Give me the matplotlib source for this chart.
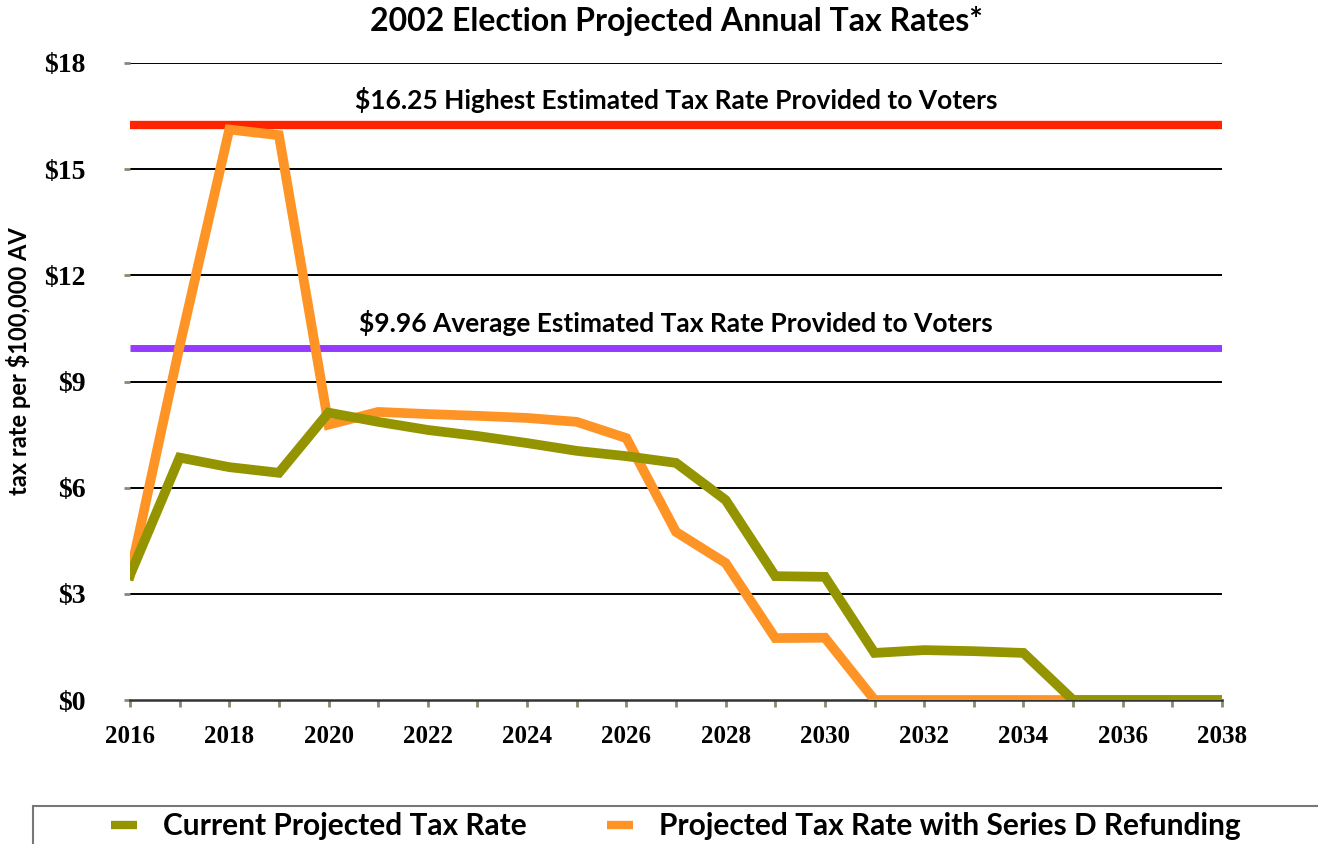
import matplotlib
matplotlib.use("Agg")
import matplotlib.pyplot as plt
from matplotlib.patches import Rectangle

# Projected tax rate per $100,000 of assessed value, by year
years = list(range(2016, 2039))
current_rate = [3.53, 6.85, 6.58, 6.42, 8.12, 7.86, 7.63, 7.46, 7.26, 7.04, 6.89, 6.70,
                5.65, 3.50, 3.48, 1.33, 1.41, 1.38, 1.33, 0.0, 0.0, 0.0, 0.0]
refunding_rate = [3.53, 10.0, 16.12, 15.96, 7.78, 8.14, 8.08, 8.03, 7.97, 7.86, 7.40, 4.75,
                  3.87, 1.75, 1.76, 0.0, 0.0, 0.0, 0.0, 0.0, 0.0, 0.0, 0.0]

highest_rate = 16.25
average_rate = 9.96

y_ticks = [0, 3, 6, 9, 12, 15, 18]
y_tick_labels = ["$0", "$3", "$6", "$9", "$12", "$15", "$18"]
x_major = list(range(2016, 2039, 2))
x_minor = list(range(2017, 2039, 2))

title = "2002 Election Projected Annual Tax Rates*"
ylabel = "tax rate per $100,000 AV"
highest_label = "$16.25 Highest Estimated Tax Rate Provided to Voters"
average_label = "$9.96 Average Estimated Tax Rate Provided to Voters"
series_names = ["Current Projected Tax Rate", "Projected Tax Rate with Series D Refunding"]

GREEN = "#949400"
ORANGE = "#FF9426"
RED = "#FF2400"
PURPLE = "#933CFF"
TICK = "#7F8F6F"

SANS = ["Lato", "DejaVu Sans"]
SERIF = ["Liberation Serif", "DejaVu Serif"]

fig = plt.figure(figsize=(13.18, 8.44), dpi=100)
ax = fig.add_axes([130 / 1318, 1 - 700 / 844, 1092 / 1318, 637 / 844])

ax.set_xlim(2016, 2038)
ax.set_ylim(0, 18)

# horizontal gridlines
for v in y_ticks[1:]:
    ax.axhline(v, color="black", lw=1.4, zorder=1)

# reference rates
ax.axhline(highest_rate, color=RED, lw=6, zorder=2, solid_capstyle="butt")
ax.axhline(average_rate, color=PURPLE, lw=5, zorder=2, solid_capstyle="butt")
ax.text(2027.0, highest_rate + 0.33, highest_label, ha="center", va="bottom",
        fontsize=19, fontweight="bold", family=SANS)
ax.text(2027.0, average_rate + 0.33, average_label, ha="center", va="bottom",
        fontsize=19, fontweight="bold", family=SANS)

l2, = ax.plot(years, refunding_rate, color=ORANGE, lw=7, zorder=3,
              solid_joinstyle="miter", label=series_names[1])
l1, = ax.plot(years, current_rate, color=GREEN, lw=7, zorder=4,
              solid_joinstyle="miter", label=series_names[0])

for s in ["top", "right", "left"]:
    ax.spines[s].set_visible(False)
ax.spines["bottom"].set_color("#333333")
ax.spines["bottom"].set_linewidth(1.8)
ax.spines["bottom"].set_zorder(2)

ax.set_yticks(y_ticks)
ax.set_yticklabels(y_tick_labels, fontsize=20, fontweight="bold", family=SERIF)
ax.set_xticks(x_major)
ax.set_xticks(x_minor, minor=True)
ax.set_xticklabels([str(y) for y in x_major], fontsize=18, fontweight="bold", family=SERIF)
ax.tick_params(axis="y", length=4, width=2, color=TICK, pad=28)
ax.tick_params(axis="x", which="both", length=5, width=2, color=TICK, pad=13, direction="out")

fig.text(676 / 1318, 1 - 21 / 844, title, ha="center", va="center",
         fontsize=23, fontweight="bold", family=SANS)
fig.text(19 / 1318, 1 - 361 / 844, ylabel, ha="center", va="center", rotation=90,
         fontsize=17, fontweight="bold", family=SANS)

# legend box along the bottom edge
fig.patches.append(Rectangle((33 / 1318, -0.05), 1.1, 0.05 + 38 / 844,
                             transform=fig.transFigure, facecolor="white",
                             edgecolor="#777777", lw=1.5, zorder=0))
leg = fig.legend(handles=[l1, l2], loc="center", bbox_to_anchor=(676 / 1318, 18 / 844),
                 ncol=2, frameon=False, handlelength=0.87, handletextpad=0.87,
                 columnspacing=2.7, prop={"family": SANS, "weight": "bold", "size": 21.5})
for h in leg.get_lines():
    h.set_linewidth(6)
    h.set_solid_capstyle("butt")

fig.savefig("out.png", dpi=100)
